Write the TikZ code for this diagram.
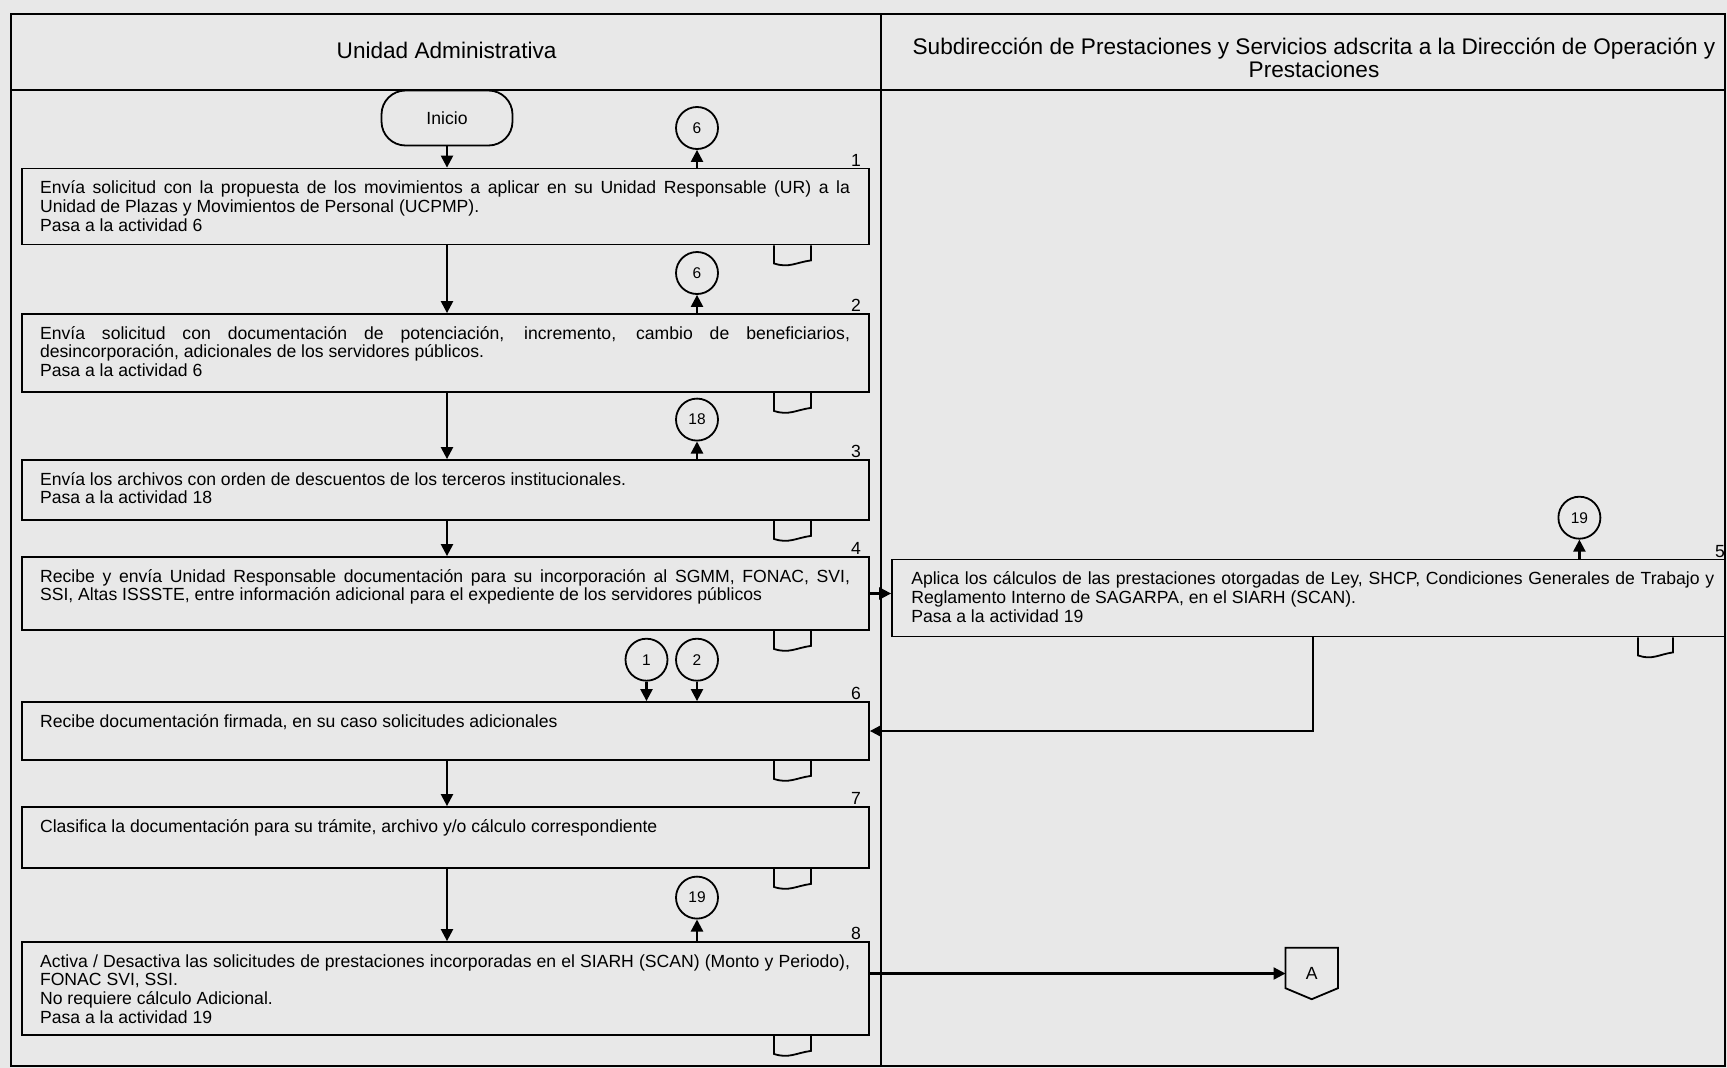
\documentclass[tikz,border=0pt]{standalone}
\usepackage{fontspec}
\setmainfont{Liberation Sans}
\usetikzlibrary{arrows.meta,calc}
\newcommand\docsym[3]{\draw[docl] ($(#1.south east)+(#2,0)$) -- ++(0,18) .. controls +(0.4*#3,5) and +(-0.4*#3,2) .. ++(#3,-3) -- ++(0,-15);}
\begin{document}
\begin{tikzpicture}[x=1pt,y=-1pt,
  every node/.style={font=\fontsize{17.6}{18.7}\selectfont},
  actbox/.style={draw, line width=1.8pt, minimum width=847pt, inner sep=0pt},
  txt/.style={anchor=north west, text width=810pt, align=justify, inner sep=0pt},
  conn/.style={draw, circle, line width=1.8pt, minimum size=42pt, inner sep=0pt, font=\fontsize{15.5}{16}\selectfont},
  num/.style={anchor=south, inner sep=1pt},
  arr/.style={line width=2.3pt, -{Triangle[length=12pt,width=12pt]}},
  docl/.style={line width=1.8pt},
  frame/.style={line width=2pt},
  hdr/.style={font=\fontsize{22.6}{23.5}\selectfont}
]
\fill[black!9] (0,0) rectangle (1727,1068);
\useasboundingbox (0,0) rectangle (1727,1068);
% frame
\draw[frame] (11,14) rectangle (1725,1066);
\draw[frame] (11,90) -- (1725,90);
\draw[frame] (881,14) -- (881,1066);
\node[hdr] (h1) at (446.6,50.7) {Unidad Administrativa};
\node[hdr, align=center] (h2) at (1314,57.8) {Subdirección de Prestaciones y Servicios adscrita a la Dirección de Operación y\\Prestaciones};
% start
\node[draw, line width=1.8pt, rounded corners=24pt, minimum width=131pt, minimum height=55pt] (ini) at (447,118) {Inicio};
% boxes
\node[actbox, minimum height=76pt] (b1) at (445.5,206.5) {};
\node[actbox, minimum height=78pt] (b2) at (445.5,353) {};
\node[actbox, minimum height=60pt] (b3) at (445.5,490) {};
\node[actbox, minimum height=73pt] (b4) at (445.5,593.5) {};
\node[actbox, minimum height=58pt] (b6) at (445.5,731) {};
\node[actbox, minimum height=61pt] (b7) at (445.5,837.5) {};
\node[actbox, minimum height=93pt] (b8) at (445.5,988.5) {};
\node[actbox, minimum width=833pt, minimum height=77pt] (b5) at (1308.5,598) {};
% texts
\node[txt] (t1) at ($(b1.north west)+(18.75,13)$) {Envía solicitud con la propuesta de los movimientos a aplicar en su Unidad Responsable (UR) a la\linebreak Unidad de Plazas y Movimientos de Personal (UCPMP).\\Pasa a la actividad 6};
\node[txt] (t2) at ($(b2.north west)+(18.75,13)$) {Envía solicitud con documentación de potenciación, incremento, cambio de beneficiarios,\linebreak desincorporación, adicionales de los servidores públicos.\\Pasa a la actividad 6};
\node[txt] (t3) at ($(b3.north west)+(18.75,13)$) {Envía los archivos con orden de descuentos de los terceros institucionales.\\Pasa a la actividad 18};
\node[txt] (t4) at ($(b4.north west)+(18.75,13)$) {Recibe y envía Unidad Responsable documentación para su incorporación al SGMM, FONAC, SVI,\linebreak SSI, Altas ISSSTE, entre información adicional para el expediente de los servidores públicos};
\node[txt] (t6) at ($(b6.north west)+(18.75,13)$) {Recibe documentación firmada, en su caso solicitudes adicionales};
\node[txt] (t7) at ($(b7.north west)+(18.75,13)$) {Clasifica la documentación para su trámite, archivo y/o cálculo correspondiente};
\node[txt] (t8) at ($(b8.north west)+(18.75,13)$) {Activa / Desactiva las solicitudes de prestaciones incorporadas en el SIARH (SCAN) (Monto y Periodo),\linebreak FONAC SVI, SSI.\\No requiere cálculo Adicional.\\Pasa a la actividad 19};
\node[txt, text width=803pt] (t5) at ($(b5.north west)+(20,13)$) {Aplica los cálculos de las prestaciones otorgadas de Ley, SHCP, Condiciones Generales de Trabajo y\linebreak Reglamento Interno de SAGARPA, en el SIARH (SCAN).\\Pasa a la actividad 19};
% numbers
\node[num] (n1) at ($(b1.north east)+(-14,0)$) {1};
\node[num] (n2) at ($(b2.north east)+(-14,0)$) {2};
\node[num] (n3) at ($(b3.north east)+(-14,0)$) {3};
\node[num] (n4) at ($(b4.north east)+(-14,0)$) {4};
\node[num] (n6) at ($(b6.north east)+(-14,0)$) {6};
\node[num] (n7) at ($(b7.north east)+(-14,0)$) {7};
\node[num] (n8) at ($(b8.north east)+(-14,0)$) {8};
\node[num] (n5) at ($(b5.north east)+(-6,0)$) {5};
% connectors
\node[conn] (c1) at (697,128) {6};
\node[conn] (c2) at (697,273) {6};
\node[conn] (c3) at (697,419.6) {18};
\node[conn] (c8) at (697,897.6) {19};
\node[conn] (k1) at (646.5,659.7) {1};
\node[conn] (k2) at (697,659.7) {2};
\node[conn] (c5) at (1579.4,517.7) {19};
\draw[arr] (c1 |- b1.north) -- (c1.south);
\draw[arr] (c2 |- b2.north) -- (c2.south);
\draw[arr] (c3 |- b3.north) -- (c3.south);
\draw[arr] (c8 |- b8.north) -- (c8.south);
\draw[arr] (c5 |- b5.north) -- (c5.south);
\draw[arr] (k1.south) -- (k1 |- b6.north);
\draw[arr] (k2.south) -- (k2 |- b6.north);
% main flow
\draw[arr] (ini.south) -- (ini |- b1.north);
\draw[arr] (ini |- b1.south) -- (ini |- b2.north);
\draw[arr] (ini |- b2.south) -- (ini |- b3.north);
\draw[arr] (ini |- b3.south) -- (ini |- b4.north);
\draw[arr] (ini |- b6.south) -- (ini |- b7.north);
\draw[arr] (ini |- b7.south) -- (ini |- b8.north);
\draw[arr] (b4.east) -- (b4.east -| b5.west);
\coordinate (k5) at (1313,598);
\draw[arr] (k5 |- b5.south) |- (b6.east);
% off-page connector
\node[minimum width=52pt, minimum height=51pt, inner sep=0pt] (A) at (1311.7,973.5) {A};
\draw[line width=1.8pt] (A.north west) -- (A.north east) -- ($(A.south east)+(0,-11)$) -- (A.south) -- ($(A.south west)+(0,-11)$) -- cycle;
\draw[arr] (A.west -| b8.east) -- (A.west);
% document symbols
\docsym{b1}{-96}{37}
\docsym{b2}{-96}{37}
\docsym{b3}{-96}{37}
\docsym{b4}{-96}{37}
\docsym{b6}{-96}{37}
\docsym{b7}{-96}{37}
\docsym{b8}{-96}{37}
\docsym{b5}{-88}{35}
\end{tikzpicture}
\end{document}
